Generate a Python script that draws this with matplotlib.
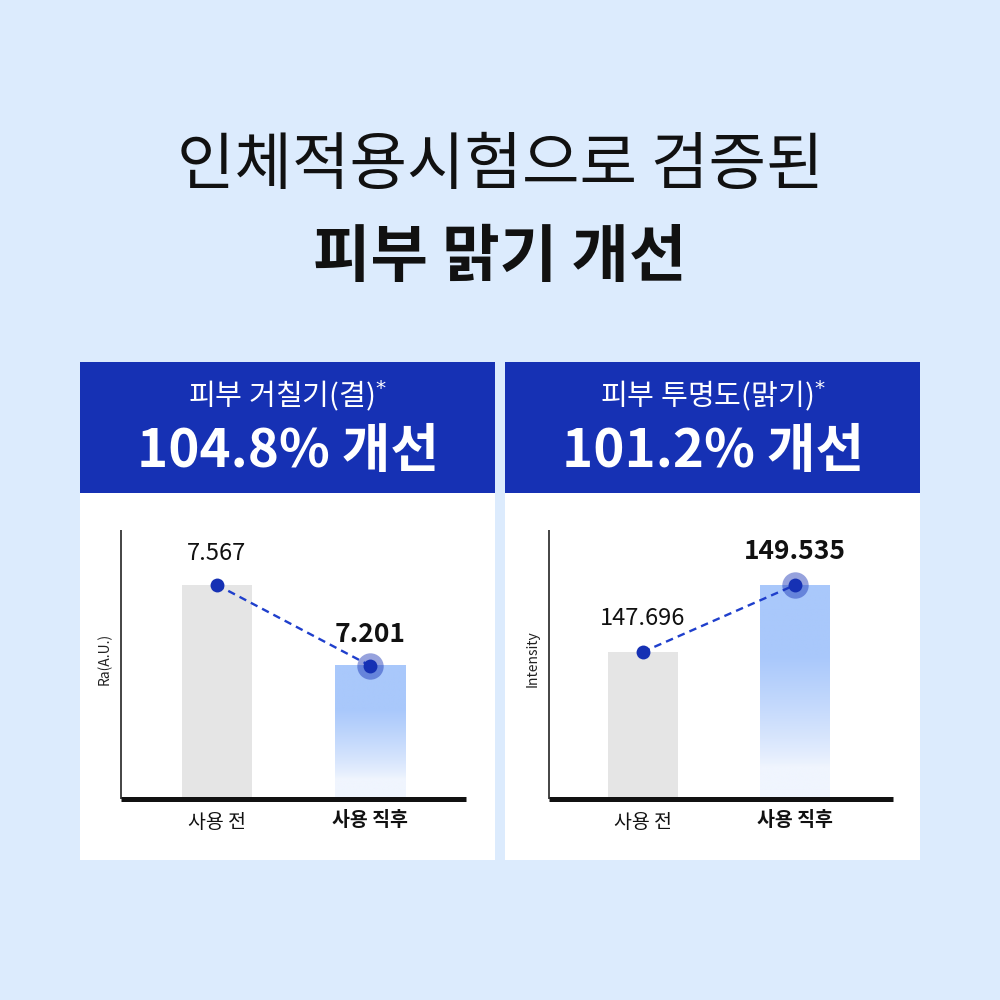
import numpy as np
import matplotlib.pyplot as plt
from matplotlib.patches import Rectangle
from matplotlib.colors import to_rgb

plt.rcParams['font.family'] = ['Noto Sans CJK KR', 'DejaVu Sans']

# data
title_1 = '인체적용시험으로 검증된'
title_2 = '피부 맑기 개선'
panel_names = ['피부 거칠기(결)', '피부 투명도(맑기)']
panel_results = ['104.8% 개선', '101.2% 개선']
categories = ['사용 전', '사용 직후']
ylabels = ['Ra(A.U.)', 'Intensity']
roughness = [7.567, 7.201]
intensity = [147.696, 149.535]
value_labels = [['7.567', '7.201'], ['147.696', '149.535']]
ylims = [(6.5965, 7.816), (143.66, 151.045)]

BG = '#DCEBFD'
NAVY = '#1631B4'
GRAY = '#E5E5E5'
BLUE_TOP = '#A9C8FB'
BLUE_BOT = '#F0F5FE'

fig = plt.figure(figsize=(10, 10), dpi=100)
fig.patch.set_facecolor(BG)


def px(x, y):
    return x / 1000, 1 - y / 1000


fig.text(0.5, 1 - 0.166, title_1, ha='center', va='center', fontsize=45,
         color='#111111')
fig.text(0.5, 1 - 0.257, title_2, ha='center', va='center', fontsize=45,
         fontweight='bold', color='#111111')

panel_left = [80, 505]
for i, x0 in enumerate(panel_left):
    # header box and white body
    fig.patches.append(Rectangle(px(x0, 493), 0.415, 0.131, transform=fig.transFigure,
                                 facecolor=NAVY, edgecolor='none', zorder=0))
    fig.patches.append(Rectangle(px(x0, 860), 0.415, 0.367, transform=fig.transFigure,
                                 facecolor='white', edgecolor='none', zorder=0))
    cx = (x0 + 207.5) / 1000
    fig.text(cx, 1 - 0.396, panel_names[i] + r'$^{*}$', ha='center', va='center',
             fontsize=21, color='white')
    fig.text(cx, 1 - 0.452, panel_results[i], ha='center', va='center',
             fontsize=38, fontweight='heavy', color='white')

axes_rects = [[0.121, 0.201, 0.345, 0.269], [0.549, 0.201, 0.344, 0.269]]
series = [roughness, intensity]
xlims = [(-0.627, 1.627), (-0.615, 1.643)]

grad = np.linspace(0, 1, 256)
w = np.clip((grad - 0.15) / 0.52, 0, 1)
w = w ** 0.8
c_top = np.array(to_rgb(BLUE_TOP))
c_bot = np.array(to_rgb(BLUE_BOT))
grad_img = (c_bot[None, :] * (1 - w[:, None]) + c_top[None, :] * w[:, None])[:, None, :]

for i, rect in enumerate(axes_rects):
    ax = fig.add_axes(rect)
    ax.set_zorder(2)
    ax.set_facecolor('none')
    vals = series[i]
    ymin, ymax = ylims[i]
    bw = 0.4575
    ax.bar(0, vals[0] - ymin, bottom=ymin, width=bw, color=GRAY, zorder=1)
    ax.imshow(grad_img, extent=[1 - bw / 2, 1 + bw / 2, ymin, vals[1]], origin='lower',
              aspect='auto', zorder=1, interpolation='bilinear')
    ax.set_xlim(*xlims[i])
    ax.set_ylim(ymin, ymax)

    ax.plot([0, 1], vals, linestyle=(0, (3.2, 2.2)), color='#1F3FCC', linewidth=1.7, zorder=3)
    ax.plot(1, vals[1], 'o', markersize=19, color=NAVY, alpha=0.45, markeredgewidth=0, zorder=4)
    ax.plot([0, 1], vals, 'o', markersize=10, color=NAVY, markeredgewidth=0, zorder=5, linestyle='none')

    span = ymax - ymin
    off = 0.115 * span if i == 0 else 0.125 * span
    ax.text(0, vals[0] + off, value_labels[i][0], ha='center', va='center',
            fontsize=17, color='#111111')
    ax.text(1, vals[1] + off, value_labels[i][1], ha='center', va='center',
            fontsize=19, fontweight='bold', color='#111111')

    ax.set_xticks([0, 1])
    ax.set_xticklabels(categories, fontsize=14, color='#111111')
    ax.get_xticklabels()[1].set_fontweight('bold')
    ax.tick_params(axis='x', length=0, pad=9)
    ax.set_yticks([])
    ax.set_ylabel(ylabels[i], fontsize=10, color='#222222')
    ax.yaxis.set_label_coords(-0.026, 0.52)
    for s in ['top', 'right']:
        ax.spines[s].set_visible(False)
    ax.spines['bottom'].set_linewidth(3.6)
    ax.spines['bottom'].set_color('#111111')
    ax.spines['bottom'].set_capstyle('butt')
    ax.spines['left'].set_linewidth(1.1)
    ax.spines['left'].set_color('#111111')
    ax.spines['left'].set_capstyle('butt')

fig.savefig('out.png', dpi=100, facecolor=BG)
